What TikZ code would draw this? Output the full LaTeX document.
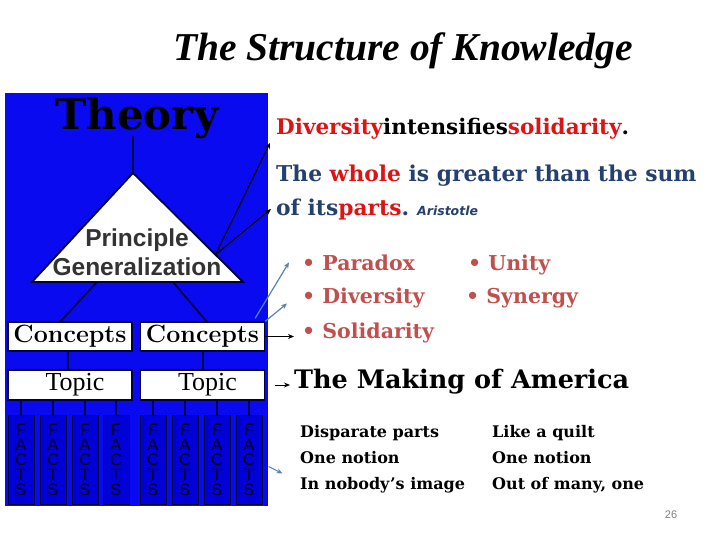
\documentclass[tikz,border=0pt]{standalone}
\usepackage{fontspec}
\newfontfamily\titlef{Liberation Serif}
\newfontfamily\arialf{Liberation Sans}
\newfontfamily\bkf{DejaVu Serif}
\newfontfamily\dvsans{DejaVu Sans}
\usetikzlibrary{arrows.meta,calc}
\newcommand\fsz[1]{\fontsize{#1}{#1}\selectfont}
\definecolor{panelblue}{RGB}{10,10,240}
\definecolor{factblue}{RGB}{0,0,215}
\definecolor{navy}{RGB}{0,0,60}
\definecolor{dblue}{RGB}{36,64,110}
\definecolor{hred}{RGB}{220,20,20}
\definecolor{bred}{RGB}{192,80,77}
\definecolor{arrblue}{RGB}{90,130,180}
\definecolor{dgray}{RGB}{51,51,51}
\definecolor{factink}{RGB}{0,0,30}
\tikzset{
  whitebox/.style={draw=navy, line width=1.2pt, fill=white, minimum height=29pt, minimum width=124pt, inner sep=0pt},
  factbox/.style={draw=navy, line width=1pt, fill=factblue, minimum width=26pt, minimum height=89pt, inner sep=0pt,
    align=center, text=factink, font=\arialf\fontsize{16.5}{15}\selectfont},
  tree/.style={draw=navy, line width=1.8pt},
  blkarrow/.style={draw=black, line width=1.2pt, -{Stealth[length=6pt,width=5pt]}},
  bluearrow/.style={draw=arrblue, line width=1.2pt, -{Stealth[length=6pt,width=5pt]}},
  rtext/.style={anchor=base west, inner sep=0pt},
  bul/.style={rtext, text=bred, font=\bkf\bfseries\fsz{20.5}},
  small/.style={rtext, font=\bkf\bfseries\fsz{16}},
}
\begin{document}
\begin{tikzpicture}[x=1pt,y=-1pt]
\useasboundingbox (0,0) rectangle (720,540);
\fill[white] (0,0) rectangle (720,540);
% title
\node[anchor=base, inner sep=0pt, font=\titlef\bfseries\itshape\fsz{39.5}] (title) at (403,61) {The Structure of Knowledge};
% panel
\fill[panelblue] (5,93) rectangle (268,506);
\node[anchor=base, inner sep=0pt, font=\bkf\bfseries\fsz{42}] (theory) at (137,130) {Theory};
% triangle
\coordinate (apex) at (133,173);
\coordinate (bl) at (32,282);
\coordinate (br) at (243,282);
\coordinate (tstem) at (133,136);
\draw[tree] (tstem) -- (apex);
\draw[tree, fill=white, line join=miter] (apex) -- (br) -- (bl) -- cycle;
\node[anchor=base, inner sep=0pt, font=\arialf\bfseries\fsz{24.5}, text=dgray] (prin) at (137,247) {Principle};
\node[anchor=base, inner sep=0pt, font=\arialf\bfseries\fsz{24.5}, text=dgray] (gen) at (137,275) {Generalization};
% concepts
\node[whitebox, font=\bfseries\fsz{25}] (c1) at (70,336.5) {Concepts};
\node[whitebox, font=\bfseries\fsz{25}] (c2) at (202.5,336.5) {Concepts};
\coordinate (tl1) at (97,282);
\coordinate (tl2) at (173,282);
\draw[tree] (tl1) -- (60,322);
\draw[tree] (tl2) -- (207,322);
% topics
\node[whitebox, font=\titlef\fsz{26}, minimum height=30pt, text width=112pt, align=center] (t1) at (70,385) {\hspace*{10pt}Topic};
\node[whitebox, font=\titlef\fsz{26}, minimum height=30pt, text width=112pt, align=center] (t2) at (202.5,385) {\hspace*{10pt}Topic};
\draw[tree] (c1.south -| 68,0) -- (t1.north -| 68,0);
\draw[tree] (c2.south -| 203,0) -- (t2.north -| 203,0);
% facts
\foreach \i/\x in {1/21,2/53,3/85,4/116} {
  \node[factbox] (f\i) at (\x,459.5) {F\\A\\C\\T\\S};
  \draw[tree] (f\i.north) -- (f\i.north |- t1.south);
}
\foreach \i/\x in {5/153,6/185,7/217,8/249} {
  \node[factbox] (f\i) at (\x,459.5) {F\\A\\C\\T\\S};
  \draw[tree] (f\i.north) -- (f\i.north |- t2.south);
}
% right texts
\node[rtext, font=\bkf\bfseries\fsz{21.5}] (l1) at (276,135)
  {\textcolor{hred}{Diversity}intensifies\textcolor{hred}{solidarity}.};
\node[rtext, font=\bkf\bfseries\fsz{21.8}, text=dblue] (l2) at (276,182)
  {The \textcolor{hred}{whole} is greater than the sum};
\node[rtext, font=\bkf\bfseries\fsz{21.8}, text=dblue] (l3) at (276,215)
  {of its\textcolor{hred}{parts}.};
\node[rtext, font=\dvsans\bfseries\itshape\fsz{12.5}, text=dblue] (ari) at (417,215) {Aristotle};
% bullets
\node[bul] (b1) at (302,270) {\textbullet\ Paradox};
\node[bul] (b2) at (302,303) {\textbullet\ Diversity};
\node[bul] (b3) at (302,338) {\textbullet\ Solidarity};
\node[bul] (b4) at (468,270) {\textbullet\ Unity};
\node[bul] (b5) at (466,303) {\textbullet\ Synergy};
% making of america
\node[rtext, font=\bkf\bfseries\fsz{25.5}] (moa) at (294,388) {The Making of America};
\node[small] (s1) at (300,437) {Disparate parts};
\node[small] (s2) at (300,463) {One notion};
\node[small] (s3) at (300,489) {In nobody’s image};
\node[small] (s4) at (492,437) {Like a quilt};
\node[small] (s5) at (492,463) {One notion};
\node[small] (s6) at (492,489) {Out of many, one};
\node[inner sep=0pt, font=\arialf\fsz{11}, text=gray] (pg) at (671,515) {26};
% arrows
\coordinate (tr) at ($(apex)!0.75!(br)$);
\coordinate (e1) at (270,143);
\coordinate (e2) at (271,209);
\draw[blkarrow] (tr) -- (e1);
\draw[blkarrow] (tr) -- (e2);
\draw[bluearrow] ([shift={(-10,-3)}]c2.north east) -- ([xshift=-13pt]b1.west);
\draw[bluearrow] (c2.north east) -- ([shift={(-15pt,-6pt)}]b2.west);
\draw[blkarrow] (c2.east) -- ([xshift=-8pt]b3.west |- c2.east);
\draw[blkarrow, line width=1pt] ([xshift=10pt]t2.east) -- ([xshift=-4pt]moa.west |- t2.east);
\coordinate (fa) at ([shift={(6pt,-7pt)}]f8.east);
\coordinate (fb) at ([shift={(20pt,-14pt)}]f8.east);
\draw[bluearrow, line width=1pt] (fa) -- (fb);
\end{tikzpicture}
\end{document}
